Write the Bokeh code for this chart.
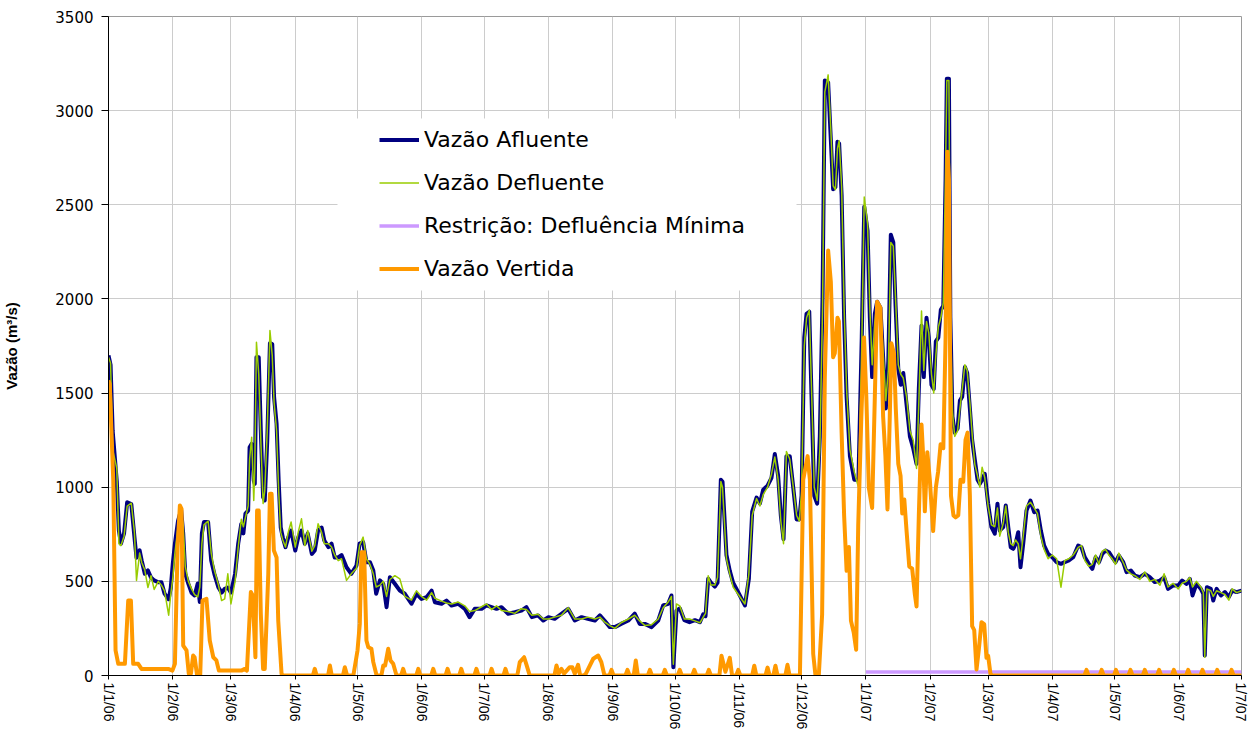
import math
from bokeh.plotting import figure
from bokeh.models import Range1d, FixedTicker, Legend, LegendItem, BoxAnnotation
from bokeh.embed import file_html
from bokeh.resources import INLINE

# ---- eixo X: dias desde 1/1/06 ----
meses_dias = [0, 31, 59, 90, 120, 151, 181, 212, 243, 273, 304, 334, 365, 396, 424, 455, 485, 516, 546]
meses_rotulos = ["1/1/06", "1/2/06", "1/3/06", "1/4/06", "1/5/06", "1/6/06", "1/7/06", "1/8/06", "1/9/06",
                 "1/10/06", "1/11/06", "1/12/06", "1/1/07", "1/2/07", "1/3/07", "1/4/07", "1/5/07", "1/6/07", "1/7/07"]
marcas_y = [0, 500, 1000, 1500, 2000, 2500, 3000, 3500]

# ---- Vazão Afluente / Defluente ----
dias = [
    0, 1, 2, 4, 5, 6, 7.5, 9, 11, 12.5, 13.5, 15, 16, 17.5, 19, 20.5, 22, 24, 25.5, 27, 29, 30,
    31, 32, 33.5, 35, 36, 37, 38.5, 40, 41.5, 43, 44, 45, 46, 48, 49.5, 51, 53, 54.5, 56, 57.5,
    59, 61, 62.5, 64, 65, 66, 67.3, 68, 69, 70, 70.5, 71.3, 72.4, 73.4, 74.5, 75.3, 76.5, 77.8, 78.9, 79.8, 81, 82, 83, 84, 85.3, 86.6, 88,
    90, 91.4, 93, 94.6, 96, 98, 99.4, 101, 102.7, 104, 106, 107.5, 109, 110.7, 112.3, 114.7, 117,
    119.5, 121, 122.7, 124.3, 126, 127.6, 129, 130.8, 132.4, 134, 135.6, 138, 140.4, 142.8, 146, 148.4,
    150.8, 153.3, 155.7, 157.3, 160.5, 162.9, 165.3, 168.5, 171.7, 174, 176.5, 179.8,
    182.2, 184.6, 187, 189.4, 192.6, 195.8, 199, 201.4, 204, 207, 209.5,
    212, 215, 218.3, 221.5, 224.7, 228, 231, 234.4, 236.8, 239, 241.6,
    244, 247, 250.5, 253.6, 256, 258.5, 261.7, 264.9, 267.3, 269.7, 271.3, 272.2,
    273.7, 275.3, 277.5, 280, 282.6, 285, 286.6, 287.7, 289, 290.3, 292.2, 293.5, 295.1, 295.9, 297.8, 299.4, 301, 303.5,
    306.7, 308.6, 310.2, 312.3, 313.9, 315.5, 317.6, 319.5, 321.1, 322.7, 324, 325.3, 326.7, 328.3, 330, 331.6, 332.9,
    334, 335.3, 336.4, 337.7, 338.8, 340.1, 341.5, 342.8, 344.1, 345.2, 346.8, 348.1, 349.2, 350.3, 351.3, 352.1, 353.3, 354.5, 355.7, 357.3, 359.4, 361.4, 363, 364.2,
    365.8, 366.9, 368, 369.3, 370.4, 372, 373.3, 374.6, 375.8, 377, 378.2, 379.3, 380.6, 381.8, 383, 384.6, 386.2, 387.8, 389.4, 390.5, 391.8, 392.9, 394.2, 395.3,
    396.6, 397.7, 398.7, 399.9, 401.1, 402.3, 403.4, 404, 405, 405.7, 406.7, 407.8, 409.2, 410.3, 411.4, 412.7, 413.8, 415.1, 416.2, 417.5, 418.8, 419.9, 421, 422.3, 423.9,
    425.5, 427.1, 428.4, 429.5, 431.2, 432.4, 433.6, 434.8, 436, 437.1, 438.4, 439.5, 440.8, 442.4, 444.3, 446.1, 447.7, 449.3, 450.9, 452.8, 454.8,
    456.9, 459, 460.8, 462.8, 464.9, 467.3, 468.9, 470.5, 472.4, 474.1, 475.7, 477.3, 478.9, 480.5, 482.1, 483.7,
    485.3, 486.9, 489, 490.6, 492.7, 494.6, 497, 499.4, 501.8, 504.2, 506.7, 508.7, 510.6, 513, 515.5,
    517.4, 519.5, 521.1, 522.4, 524.3, 526.4, 527.6, 528.3, 529.3, 531.2, 532.4, 534, 536.1, 538, 539.9, 541.5, 543.6, 546,
]
afluente = [
    1700, 1650, 1300, 1030, 770, 700, 755, 920, 910, 735, 625, 665, 610, 540, 558, 520, 505, 495, 495, 435, 405, 465,
    595, 700, 820, 880, 755, 540, 487, 440, 425, 488, 390, 755, 815, 815, 610, 540, 467, 440, 460, 467,
    440, 540, 700, 805, 755, 860, 876, 1212, 1230, 1035, 1018, 1690, 1690, 1300, 947, 930, 1248, 1765, 1760, 1478, 1338, 1035, 786, 733, 682, 733, 770,
    664, 733, 770, 700, 754, 646, 664, 770, 786, 717, 682, 700, 627, 627, 640, 575, 540,
    584, 700, 708, 602, 602, 558, 434, 505, 487, 363, 522, 487, 451, 434, 381, 434,
    407, 416, 451, 389, 381, 398, 372, 381, 354, 310, 354, 354,
    372, 363, 354, 363, 328, 336, 345, 363, 310, 319, 292,
    310, 301, 328, 354, 292, 310, 301, 292, 319, 292, 257,
    257, 274, 292, 328, 274, 274, 257, 292, 372, 381, 425, 44,
    345, 357, 294, 283, 294, 283, 325, 315, 514, 493, 472, 493, 1040, 1029, 640, 556, 493, 441,
    372, 514, 871, 945, 913, 987, 1008, 1050, 1176, 1060, 850, 724, 1165, 1165, 997, 829, 829,
    955, 1795, 1921, 1932, 1480, 955, 913, 1270, 2005, 3160, 3150, 2845, 2583, 2594, 2835, 2825, 2550, 1900, 1480, 1165, 1040, 1040, 1795, 2490,
    2362, 1900, 1585, 1921, 1985, 1953, 1690, 1418, 1670, 2341, 2300, 1963, 1627, 1544, 1607, 1438, 1270, 1207, 1124, 1522, 1858, 1585, 1900, 1795,
    1544, 1522, 1775, 1795, 1942, 1963, 2635, 3170, 3170, 1900, 1375, 1290, 1312, 1460, 1480, 1638, 1607, 1418, 1250, 1145, 1040, 1019, 1040, 1071, 912,
    788, 753, 912, 770, 788, 903, 788, 681, 673, 699, 761, 575, 699, 876, 929, 867, 876, 770, 690, 646, 628,
    602, 593, 602, 611, 628, 690, 681, 628, 593, 566, 628, 602, 646, 664, 655, 628,
    602, 637, 602, 549, 557, 531, 522, 540, 522, 496, 504, 522, 460, 478, 478,
    504, 487, 513, 425, 487, 460, 434, 106, 469, 460, 398, 460, 425, 443, 416, 451, 443, 451,
]
defluente = [
    1690, 1660, 1200, 1100, 700, 690, 740, 900, 915, 760, 505, 650, 600, 560, 467, 530, 457, 500, 480, 450, 320, 430,
    520, 650, 790, 870, 800, 580, 500, 460, 430, 417, 470, 700, 800, 820, 650, 560, 480, 398, 407, 540,
    380, 500, 680, 830, 790, 840, 900, 1150, 1265, 930, 1100, 1770, 1600, 1250, 913, 980, 1300, 1832, 1700, 1450, 1300, 980, 760, 720, 682, 760, 815,
    682, 760, 832, 690, 770, 660, 690, 806, 760, 700, 700, 682, 640, 610, 620, 505, 540,
    570, 690, 735, 620, 590, 540, 470, 480, 500, 420, 510, 530, 513, 420, 400, 450,
    420, 400, 440, 410, 395, 385, 380, 390, 370, 340, 345, 365,
    380, 350, 370, 345, 340, 330, 355, 350, 320, 325, 300,
    300, 310, 320, 360, 300, 300, 310, 300, 310, 285, 265,
    250, 280, 300, 320, 290, 265, 270, 300, 360, 390, 420, 60,
    380, 370, 300, 300, 290, 280, 310, 330, 530, 480, 480, 520, 1030, 1000, 620, 540, 470, 430,
    380, 540, 850, 940, 900, 960, 1000, 1070, 1160, 1040, 820, 700, 1190, 1150, 1000, 850, 820,
    980, 1750, 1900, 1940, 1520, 1000, 930, 1200, 1950, 3100, 3190, 2900, 2600, 2580, 2800, 2840, 2600, 1950, 1520, 1200, 1080, 1000, 1750, 2541,
    2400, 1950, 1650, 1880, 1990, 1960, 1720, 1460, 1620, 2300, 2280, 2000, 1650, 1600, 1580, 1480, 1300, 1250, 1100, 1450, 1936, 1620, 1880, 1820,
    1600, 1500, 1700, 1850, 1900, 1980, 2700, 3160, 3160, 1950, 1400, 1270, 1300, 1420, 1520, 1650, 1620, 1450, 1280, 1120, 1060, 1000, 1106, 1050, 900,
    800, 790, 890, 740, 810, 900, 760, 700, 690, 720, 700, 620, 740, 900, 920, 890, 860, 740, 670, 620, 640,
    620, 469, 610, 620, 640, 680, 690, 610, 580, 590, 640, 590, 660, 670, 640, 620,
    590, 650, 600, 560, 540, 530, 510, 550, 500, 510, 480, 540, 470, 490, 460,
    490, 500, 520, 470, 500, 470, 440, 97, 460, 450, 420, 450, 440, 430, 400, 460, 440, 450,
]

# ---- Vazão Vertida ----
dias_vert = [
    0, 0.6, 2.3, 3.4, 4.7, 7.9, 9.5, 10.8, 11.9, 14.3, 15.9, 28.8, 30.8, 32, 33.3, 34.4, 35.2, 36, 37.6, 38.7,
    39.7, 40.8, 41.5, 42.7, 44.2, 45.3, 47.2, 48.8, 50.5, 52, 53.2, 64, 65.7, 66.7, 68.6, 69.5, 70.8, 71.6, 72.4, 73.4,
    74.5, 75.3, 77, 77.8, 78.6, 79.7, 81, 81.8, 83.4, 84,
    98.5, 99.4, 100.3, 105.8, 106.7, 107.6, 113, 113.9, 115, 118, 120, 121.1, 121.9, 123.2, 124.3, 125.2, 126.7, 127.6,
    129.2, 131.5, 132.4, 133.3, 134.8, 135.9, 137.2, 138.8,
    141, 142, 143, 148.3, 149.3, 150.3, 155.5, 156.5, 157.5, 162.4, 163.4, 164.4, 169, 170, 171, 176.3, 177.3, 178.3,
    183.6, 184.6, 185.6, 190.3, 191.3, 192.3, 197, 198.2, 200.3, 201.3, 203, 214.9, 215.9, 217, 218.3, 219.5,
    222.3, 223.5, 224.7, 226.3, 227.3, 229, 230, 233.6, 236, 237.5, 239, 241.4, 242.4, 243.4, 249.1, 250.1, 251.1,
    253.1, 254.1, 255.1, 259.9, 260.9, 261.9, 267.1, 268.1, 269.1,
    274.3, 275.3, 276.3, 281.3, 282.3, 283.3, 288.3, 289.3, 290.3, 294.4, 295.4, 297.3, 299.4, 300.5, 302.5, 303.5, 304.5,
    310.2, 311.2, 312.2, 316.6, 317.6, 318.6, 320.4, 321.4, 322.4, 326.2, 327.2, 328.2, 333.2,
    334.8, 336.9, 338, 339.6, 340.7, 342.3, 343.9, 345.2, 346.8, 348.1, 349.2, 350, 351.3, 352, 353.3, 354.5, 355.7, 356.8,
    357.8, 359.1, 360.3, 361.3, 362.8, 364.1, 365.2, 366.4, 368, 369.3, 370.4, 372, 373.3, 374.4, 375.4, 376.5, 377.3,
    378.5, 379.4, 380.6, 381.7, 382.5, 383.5, 384.6, 385.9, 387.3, 388.6, 389.4, 390.5, 391.8, 392.6, 393.4, 394.6, 395.8,
    397.4, 398.7, 399.8, 401, 402.3, 403.4, 404.3, 405, 406, 407.2, 408.2, 409.5, 410.6, 411.9, 413, 414, 415.1, 416.2,
    417.2, 418.3, 419.4, 420.7, 422, 423.1, 423.9, 425, 425.8,
    470.3, 471.3, 472.3, 477.6, 478.6, 479.6, 484.5, 485.5, 486.5, 491.5, 492.5, 493.5, 498.4, 499.4, 500.4,
    505.3, 506.3, 507.3, 512.4, 513.4, 514.4, 519.3, 520.3, 521.3, 526.2, 527.2, 528.2, 533.3, 534.3, 535.3,
    540.2, 541.2, 542.2, 546,
]
vertida = [
    1567, 1547, 1035, 133, 62, 62, 398, 398, 62, 62, 35, 35, 26, 62, 681, 903, 885, 159, 133, 9,
    9, 106, 97, 0, 0, 398, 407, 186, 97, 80, 26, 26, 35, 26, 443, 425, 97, 876, 876, 328,
    35, 35, 540, 965, 965, 664, 627, 292, 9, 0,
    0, 35, 0, 0, 53, 0, 0, 44, 0, 0, 133, 274, 655, 655, 186, 150, 142, 71,
    0, 0, 53, 53, 142, 80, 62, 0,
    0, 35, 0, 0, 35, 0, 0, 35, 0, 0, 35, 0, 0, 35, 0, 0, 35, 0,
    0, 35, 0, 0, 35, 0, 0, 71, 97, 62, 0, 0, 53, 10, 35, 10,
    44, 44, 9, 57, 0, 0, 9, 89, 106, 71, 0, 0, 30, 0, 0, 30, 0,
    0, 80, 0, 0, 30, 0, 0, 30, 0,
    0, 30, 0, 0, 30, 0, 0, 30, 0, 0, 105, 20, 94, 0, 0, 30, 0,
    0, 52, 0, 0, 42, 0, 0, 52, 0, 0, 57, 0, 0,
    1040, 1165, 1040, 115, 0, 0, 325, 1585, 2257, 2090, 1690, 1711, 1900, 1880, 1290, 850, 556, 683,
    290, 230, 137, 800, 1375, 1795, 1480, 997, 890, 1480, 1985, 1953, 1375, 1165, 882, 1375, 1764,
    1711, 1418, 1124, 1060, 861, 935, 767, 578, 567, 430, 367, 850, 1333, 1165, 872, 1186, 1040,
    767, 997, 1082, 1228, 1207, 1795, 2782, 2635, 955, 850, 840, 850, 1040, 1029, 1250, 1290, 955, 262,
    241, 32, 137, 283, 273, 94, 105, 10, 0,
    0, 30, 0, 0, 30, 0, 0, 30, 0, 0, 30, 0, 0, 30, 0,
    0, 30, 0, 0, 30, 0, 0, 30, 0, 0, 30, 0, 0, 30, 0,
    0, 30, 0, 0,
]

# ---- Restrição: Defluência Mínima ----
dias_rest = [365, 546]
restricao = [18, 18]

p = figure(width=1248, height=733, output_backend="svg", toolbar_location=None, title=None,
           x_range=Range1d(0, 546), y_range=Range1d(0, 3500),
           min_border_left=107, min_border_right=7, min_border_top=16, min_border_bottom=58,
           background_fill_color="white", border_fill_color="white")
p.outline_line_color = "#9a9a9a"
p.outline_line_width = 1

# grids
p.xgrid.ticker = FixedTicker(ticks=meses_dias)
p.ygrid.ticker = FixedTicker(ticks=marcas_y)
p.grid.grid_line_color = "#cccccc"
p.grid.grid_line_width = 1

# x axis
p.xaxis.ticker = FixedTicker(ticks=meses_dias)
p.xaxis.major_label_overrides = {d: r for d, r in zip(meses_dias, meses_rotulos)}
p.xaxis.major_label_orientation = -math.pi / 2
p.xaxis.major_label_text_font = "Liberation Sans"
p.xaxis.major_label_text_font_size = "14px"
p.xaxis.major_label_text_color = "black"
p.xaxis.major_label_standoff = 3
p.xaxis.major_tick_in = 0
p.xaxis.major_tick_out = 4
p.xaxis.axis_line_color = "black"
p.xaxis.major_tick_line_color = "black"

# y axis
p.yaxis.ticker = FixedTicker(ticks=marcas_y)
p.yaxis.major_label_text_font = "DejaVu Sans"
p.yaxis.major_label_text_font_size = "15px"
p.yaxis.major_label_text_color = "black"
p.yaxis.major_label_standoff = 8
p.yaxis.major_tick_in = 0
p.yaxis.major_tick_out = 7
p.yaxis.minor_tick_line_color = None
p.yaxis.axis_line_color = "black"
p.yaxis.major_tick_line_color = "black"
p.yaxis.axis_label = "Vazão (m³/s)"
p.yaxis.axis_label_text_font = "Liberation Sans"
p.yaxis.axis_label_text_font_style = "bold"
p.yaxis.axis_label_text_font_size = "15px"
p.yaxis.axis_label_text_color = "black"
p.yaxis.axis_label_standoff = 32

r_afl = p.line(dias, afluente, line_color="#000080", line_width=4, line_join="round")
r_def = p.line(dias, defluente, line_color="#99CC00", line_width=1.5, line_join="round")
r_res = p.line(dias_rest, restricao, line_color="#CC99FF", line_width=3.5)
r_ver = p.line(dias_vert, vertida, line_color="#FF9900", line_width=4, line_join="round")

fundo = BoxAnnotation(left=229, right=688, bottom=385, top=557,
                      left_units="screen", right_units="screen", top_units="screen", bottom_units="screen",
                      fill_color="white", fill_alpha=1.0, line_color=None)
p.add_layout(fundo)

legenda = Legend(items=[
    LegendItem(label="Vazão Afluente", renderers=[r_afl]),
    LegendItem(label="Vazão Defluente", renderers=[r_def]),
    LegendItem(label="Restrição: Defluência Mínima", renderers=[r_res]),
    LegendItem(label="Vazão Vertida", renderers=[r_ver]),
], location=(271, 385), padding=0, spacing=0, margin=0,
    glyph_width=40, glyph_height=43, label_standoff=5,
    label_text_font="DejaVu Sans", label_text_font_size="22px", label_text_color="black",
    background_fill_alpha=0, border_line_color=None)
p.add_layout(legenda)

open("out.html", "w").write(file_html(p, INLINE))
